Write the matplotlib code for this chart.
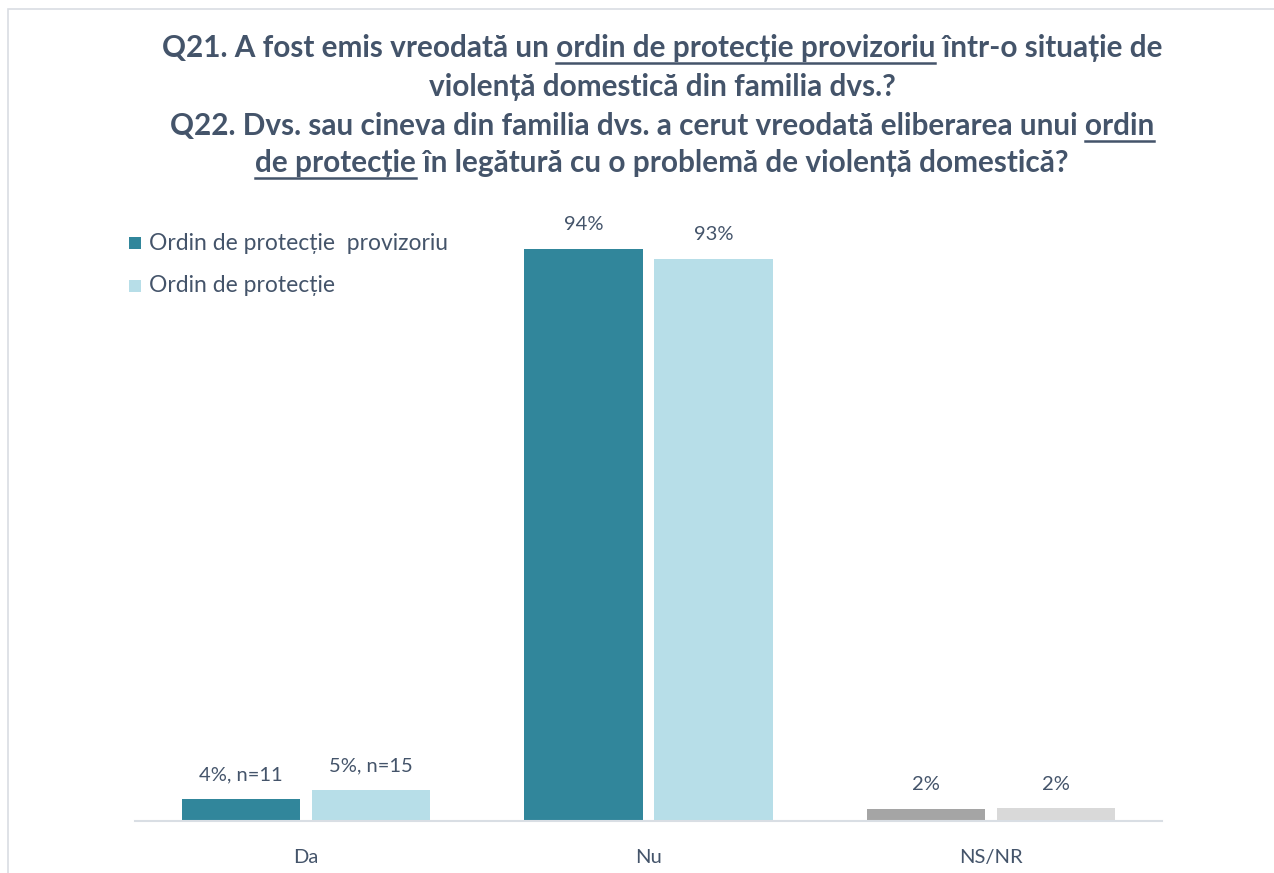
import matplotlib
matplotlib.use("Agg")
import matplotlib.pyplot as plt
from matplotlib.patches import Rectangle
from matplotlib.lines import Line2D

plt.rcParams['font.family'] = ['Lato', 'DejaVu Sans']

categories = ['Da', 'Nu', 'NS/NR']
series_names = ['Ordin de protecție  provizoriu', 'Ordin de protecție']
provizoriu = [3.6, 94.0, 2.0]
protectie = [5.1, 92.3, 2.1]
labels_provizoriu = ['4%, n=11', '94%', '2%']
labels_protectie = ['5%, n=15', '93%', '2%']

# title lines: (text before, underlined part, text after)
title_lines = [
    ('Q21. A fost emis vreodată un ', 'ordin de protecție provizoriu', ' într-o situație de'),
    ('violență domestică din familia dvs.?', '', ''),
    ('Q22. Dvs. sau cineva din familia dvs. a cerut vreodată eliberarea unui ', 'ordin', ''),
    ('', 'de protecție', ' în legătură cu o problemă de violență domestică?'),
]

TEXT = '#44546A'
TEAL = '#31869B'
LIGHT = '#B7DEE8'
GREY = '#A5A5A5'
LGREY = '#D9D9D9'
W, H = 1274, 873

fig = plt.figure(figsize=(W / 100, H / 100), dpi=100)
fig.patch.set_facecolor('white')


def fx(x):
    return x / W


def fy(y):
    return 1 - y / H


# outer chart frame (only top/left visible)
fig.add_artist(Rectangle((fx(8), fy(900)), fx(1300), fy(9) - fy(900),
                         transform=fig.transFigure, fill=False,
                         edgecolor='#D9DDE3', lw=1.2))

renderer = fig.canvas.get_renderer()


def text_width(s, size, weight='bold'):
    t = fig.text(0, 0, s, fontsize=size, fontweight=weight)
    w = t.get_window_extent(renderer).width
    t.remove()
    return w


# fit title font size so first line spans ~1000 px
full1 = ''.join(title_lines[0])
tsize = 20 * 1000 / text_width(full1, 20)

baselines = [57, 96, 135, 172]
cx = 662
for (pre, und, post), yb in zip(title_lines, baselines):
    line = pre + und + post
    fig.text(fx(cx), fy(yb), line, fontsize=tsize, fontweight='bold',
             color=TEXT, ha='center', va='baseline')
    if und:
        wl = text_width(line, tsize)
        left = cx - wl / 2
        x0 = left + text_width(pre + 'o', tsize) - text_width('o', tsize) if pre else left
        x1 = left + text_width(pre + und, tsize)
        fig.add_artist(Line2D([fx(x0), fx(x1)], [fy(yb + 6), fy(yb + 6)],
                              transform=fig.transFigure, color=TEXT, lw=1.8))

# axes
ax = fig.add_axes([fx(135), fy(821), fx(1162) - fx(135), fy(212) - fy(821)])
x = list(range(len(categories)))
bw = 0.345
off = 0.19
b1 = ax.bar([i - off for i in x], provizoriu, width=bw, color=[TEAL, TEAL, GREY])
b2 = ax.bar([i + off for i in x], protectie, width=bw, color=[LIGHT, LIGHT, LGREY])

for bars, labs in ((b1, labels_provizoriu), (b2, labels_protectie)):
    for rect, lab in zip(bars, labs):
        ax.annotate(lab, (rect.get_x() + rect.get_width() / 2, rect.get_height()),
                    xytext=(0, 24), textcoords='offset pixels', ha='center',
                    va='center', fontsize=14.5, color=TEXT)

ax.set_xlim(-0.5, 2.5)
ax.set_ylim(0, 100)
ax.set_yticks([])
ax.set_xticks(x)
ax.set_xticklabels(categories, fontsize=14.5, color=TEXT)
ax.tick_params(axis='x', length=0, pad=20)
for s in ('top', 'right', 'left'):
    ax.spines[s].set_visible(False)
ax.spines['bottom'].set_color('#D9DEE4')
ax.spines['bottom'].set_linewidth(1.5)

# legend drawn by hand
for (name, col), yc in zip(zip(series_names, [TEAL, LIGHT]), [243, 286]):
    fig.add_artist(Rectangle((fx(129), fy(yc + 6)), fx(12), fy(yc - 6) - fy(yc + 6),
                             transform=fig.transFigure, color=col, lw=0))
    fig.text(fx(149), fy(yc), name, fontsize=16.5, color=TEXT, ha='left', va='center')

fig.savefig('out.png', dpi=100, facecolor='white')
